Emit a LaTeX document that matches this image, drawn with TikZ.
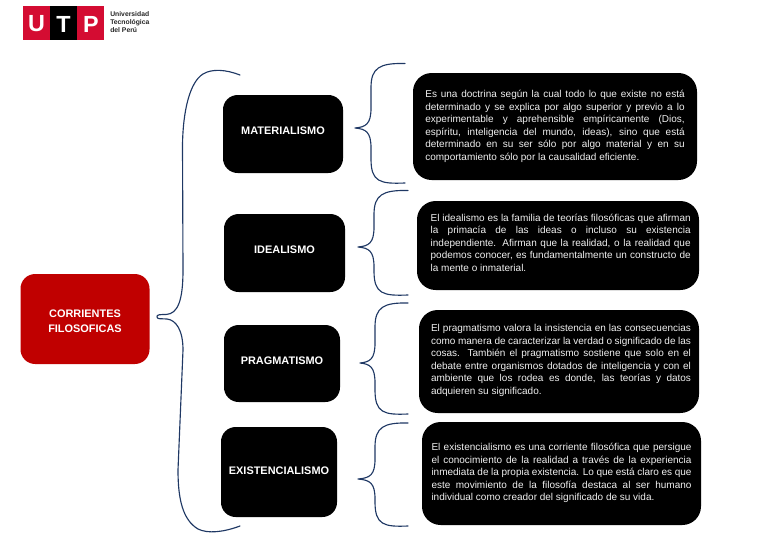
\documentclass[tikz,border=0pt]{standalone}
\usepackage{fontspec}
\setmainfont{Liberation Sans}
\newlength{\tw}
\newcommand{\tline}[1]{\makebox[\tw][s]{#1}\par}
\newcommand{\lastline}[1]{\mbox{#1}\par}
% #1 width in pt, #2 right shift, #3 lower-space, #4 lines
\newcommand{\tblock}[4]{\setlength{\tw}{#1}\hspace*{#2}\begin{minipage}{#1}\fontsize{7.5pt}{9.36pt}\selectfont\parindent=0pt\parskip=0pt #4\vspace*{#3}\end{minipage}}
\tikzset{
  x=0.75pt,y=-0.75pt,
  headbox/.style={fill=black,text=white,rounded corners=11pt,inner sep=0pt,font=\fontsize{8.2pt}{10pt}\selectfont\bfseries},
  rootbox/.style={fill=utpred,text=white,rounded corners=11pt,inner sep=0pt,align=center,font=\fontsize{8.2pt}{10.8pt}\selectfont\bfseries},
  textbox/.style={fill=black,text=textgray,rounded corners=14pt,inner sep=0pt},
  bracestyle/.style={draw=braceblue,line width=0.85pt,line cap=round,line join=round},
  logoletter/.style={text=white,inner sep=0pt,font=\fontsize{17.5pt}{17.5pt}\selectfont\bfseries},
  logotext/.style={inner sep=0pt,align=left,text=logogray,font=\fontsize{5.1pt}{6.3pt}\selectfont\bfseries}
}
\definecolor{utpred}{HTML}{C00000}
\definecolor{logored}{HTML}{D40C32}
\definecolor{braceblue}{HTML}{1F3864}
\definecolor{textgray}{HTML}{F0F0F0}
\definecolor{logogray}{HTML}{262626}
\newcommand{\curly}[6]{%
  \draw[bracestyle] (#1,#2) .. controls ({#3+9},{#2-0.5}) and (#3,{#2+4}) .. (#3,{#2+24})
    -- (#3,{#5-20}) .. controls (#3,{#5-4}) and ({#3-5},{#5-1}) .. (#4,#5)
    .. controls ({#3-5},{#5+1}) and (#3,{#5+4}) .. (#3,{#5+20})
    -- (#3,{#6-24}) .. controls (#3,{#6-1}) and ({#3+9},{#6+1}) .. (#1,#6);}
\begin{document}
\begin{tikzpicture}
\useasboundingbox (0,0) rectangle (768,544);
% logo
\fill[logored] (22.5,5.5) rectangle (104,39.5);
\fill[black] (50,5.5) rectangle (77,39.5);
\node[logoletter] (lu) at (36.5,24) {U};
\node[logoletter] (lt) at (63.5,24) {T};
\node[logoletter] (lp) at (91,24) {P};
\node[logotext,anchor=west] (lg) at (110,22) {Universidad\\Tecnológica\\del Perú};
% root
\node[rootbox,minimum width=129*0.75pt,minimum height=90*0.75pt] (root) at (85,319) {\rule{0pt}{9pt}CORRIENTES\\FILOSOFICAS};
% heads
\node[headbox,text depth=4.5pt,minimum width=120*0.75pt,minimum height=78*0.75pt] (h1) at (283,134) {MATERIALISMO};
\node[headbox,text depth=4.5pt,minimum width=121*0.75pt,minimum height=78*0.75pt] (h2) at (284.5,253) {IDEALISMO};
\node[headbox,text depth=3.5pt,minimum width=116*0.75pt,minimum height=77*0.75pt] (h3) at (282,363.5) {PRAGMATISMO};
\node[headbox,text depth=1.5pt,minimum width=116*0.75pt,minimum height=90*0.75pt] (h4) at (279,472) {EXISTENCIALISMO};
% text boxes
\node[textbox,minimum width=284*0.75pt,minimum height=107*0.75pt] (t1) at (555,126.5) {\tblock{194.5pt}{0pt}{0pt}{%
\tline{Es una doctrina según la cual todo lo que existe no está}
\tline{determinado y se explica por algo superior y previo a lo}
\tline{experimentable y aprehensible empíricamente (Dios,}
\tline{espíritu, inteligencia del mundo, ideas), sino que está}
\tline{determinado en su ser sólo por algo material y en su}
\lastline{comportamiento sólo por la causalidad eficiente.}}};
\node[textbox,minimum width=282*0.75pt,minimum height=89*0.75pt] (t2) at (558,245.5) {\tblock{195pt}{4pt}{4.6pt}{%
\tline{El idealismo es la familia de teorías filosóficas que afirman}
\tline{la primacía de las ideas o incluso su existencia}
\tline{independiente. Afirman que la realidad, o la realidad que}
\tline{podemos conocer, es fundamentalmente un constructo de}
\lastline{la mente o inmaterial.}}};
\node[textbox,minimum width=280*0.75pt,minimum height=103*0.75pt] (t3) at (559,361.5) {\tblock{195pt}{3pt}{1.6pt}{%
\tline{El pragmatismo valora la insistencia en las consecuencias}
\tline{como manera de caracterizar la verdad o significado de las}
\tline{cosas. También el pragmatismo sostiene que solo en el}
\tline{debate entre organismos dotados de inteligencia y con el}
\tline{ambiente que los rodea es donde, las teorías y datos}
\lastline{adquieren su significado.}}};
\node[textbox,minimum width=279*0.75pt,minimum height=103*0.75pt] (t4) at (561.5,473.5) {\tblock{195pt}{0pt}{0.6pt}{%
\tline{El existencialismo es una corriente filosófica que persigue}
\tline{el conocimiento de la realidad a través de la experiencia}
\tline{inmediata de la propia existencia. Lo que está claro es que}
\tline{este movimiento de la filosofía destaca al ser humano}
\lastline{individual como creador del significado de su vida.}}};
% big brace
\draw[bracestyle] (240,75) .. controls (226,69.5) and (212,68.5) .. (203,74)
  .. controls (190,82) and (183,110) .. (182.5,145)
  -- (183,270) .. controls (183,300) and (178,314) .. (166,314.5)
  .. controls (160,314.5) and (156.5,314.5) .. (157,317)
  .. controls (157,319.5) and (162,318.5) .. (167,319)
  .. controls (176,320) and (183,330) .. (183,350)
  -- (178,470) .. controls (178,500) and (183,520) .. (198,529)
  .. controls (208,534) and (224,532) .. (240,526);
% small braces
\curly{405}{63.5}{371}{355}{128}{183}
\curly{408}{190.5}{374}{358}{247}{295}
\curly{408}{303}{375}{360}{363}{414}
\curly{408}{423}{375}{358}{479}{526}
\end{tikzpicture}
\end{document}
